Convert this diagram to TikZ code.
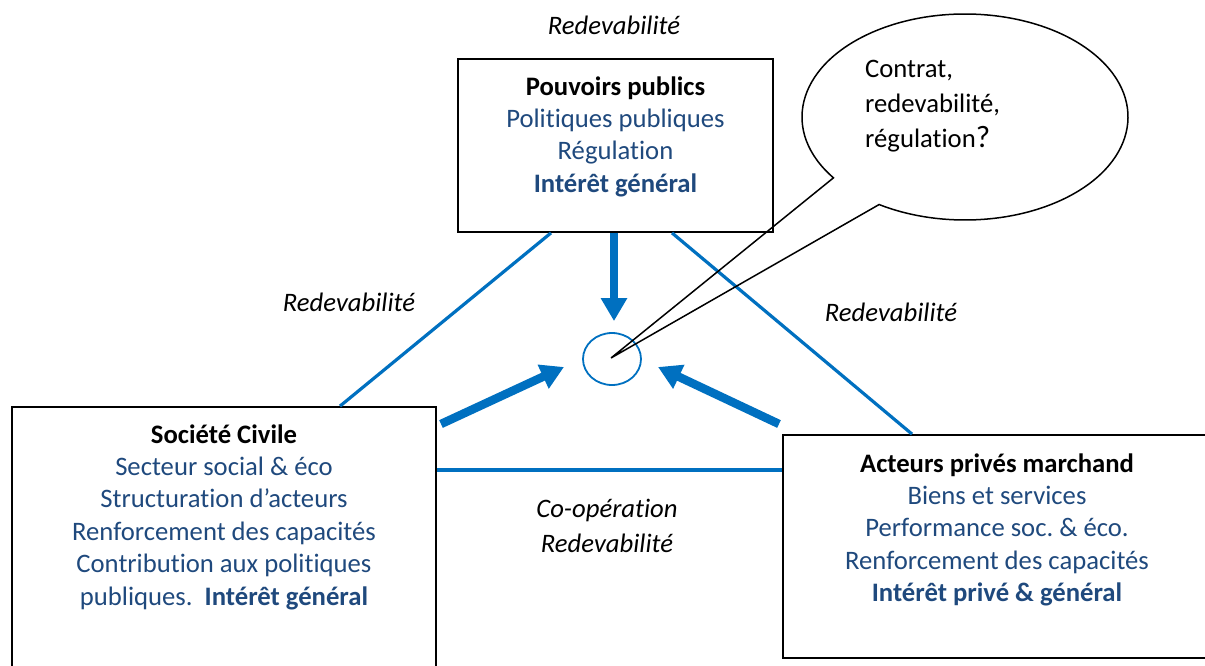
\documentclass[tikz,border=0pt]{standalone}
\usepackage{fontspec}
\setmainfont{Carlito}[Ligatures=NoCommon]
\usetikzlibrary{arrows.meta,shapes.geometric}
\definecolor{linkblue}{HTML}{0070C0}
\definecolor{textblue}{HTML}{1F497D}
\frenchspacing

\begin{document}
\begin{tikzpicture}[x=1pt,y=-1pt,
  box/.style={draw=black, line width=1.8pt, rectangle, inner sep=0pt},
  block/.style={anchor=base, inner sep=0pt, font=\fontsize{26.67pt}{32.4pt}\selectfont},
  tie/.style={draw=linkblue, line width=3.2pt},
  push/.style={draw=linkblue, line width=8.5pt, -{Triangle[length=23pt,width=25pt]}},
  tag/.style={anchor=base, inner sep=0pt, font=\fontsize{26.67pt}{35pt}\selectfont\itshape}
]
\useasboundingbox (0,0) rectangle (1205,665);

% the three actors
\node[box, minimum width=315pt, minimum height=173pt] (pp) at (615.5,145.5) {};
\node[box, minimum width=424pt, minimum height=293pt] (sc) at (224,553.5) {};
\node[box, minimum width=447pt, minimum height=223pt] (ap) at (1006.5,546.5) {};

\node[block] (pptext) at (615.5,95) {\parbox[t]{400pt}{\centering
  \textbf{Pouvoirs publics}\\
  \color{textblue}Politiques publiques\\
  Régulation\\
  \textbf{Intérêt général}}};

\node[block] (sctext) at (224,443) {\parbox[t]{420pt}{\centering
  \textbf{Société Civile}\\
  \color{textblue}Secteur social \& éco\\
  Structuration d’acteurs\\
  Renforcement des capacités\\
  Contribution aux politiques\\
  publiques.\ \ \textbf{Intérêt général}}};

\node[block] (aptext) at (997,472) {\parbox[t]{440pt}{\centering
  \textbf{Acteurs privés marchand}\\
  \color{textblue}Biens et services\\
  Performance soc. \& éco.\\
  Renforcement des capacités\\
  \textbf{Intérêt privé \& général}}};

% relations between the actors
\draw[tie] ([xshift=-64.5pt]pp.south) -- ([xshift=116pt]sc.north);
\draw[tie] ([xshift=56.5pt]pp.south) -- ([xshift=-94.5pt]ap.north);
\draw[tie] ([yshift=83.5pt]sc.east) coordinate (hl) -- (hl -| ap.west);

\node[tag] (rtop) at (614,34) {Redevabilité};
\node[tag] (rleft) at (349,311) {Redevabilité};
\node[tag] (rright) at (891,321) {Redevabilité};
\node[tag] (rbottom) at (607,517) {\parbox[t]{220pt}{\centering Co-opération\\Redevabilité}};

% the common point and the contributions toward it
\node[draw=linkblue, line width=1.8pt, ellipse, minimum width=58pt, minimum height=52pt, inner sep=0pt] (hub) at (612,359) {};

\coordinate (lstart) at (441,424);
\coordinate (ltip) at (564,367);
\coordinate (rstart) at (779,424);
\coordinate (rtip) at (658,367);

\draw[push, shorten >=11pt] ([xshift=-1.5pt]pp.south) -- ([xshift=-1.5pt]pp.south |- hub.north);
\draw[push] (lstart) -- (ltip);
\draw[push] (rstart) -- (rtip);

% speech bubble
\coordinate (bc) at (965,117);
\coordinate (tip) at (611,358);
\draw[line width=1.5pt, line join=miter] (bc) ++(143.8:163 and 103)
  arc[start angle=143.8, end angle=481.8, x radius=163, y radius=103]
  -- (tip) -- cycle;

\node[anchor=base west, inner sep=0pt, font=\fontsize{26.67pt}{35pt}\selectfont] (question) at (865,77)
  {\parbox[t]{220pt}{\raggedright Contrat,\\redevabilité,\\régulation{\fontsize{31pt}{35pt}\selectfont ?}}};
\end{tikzpicture}
\end{document}
